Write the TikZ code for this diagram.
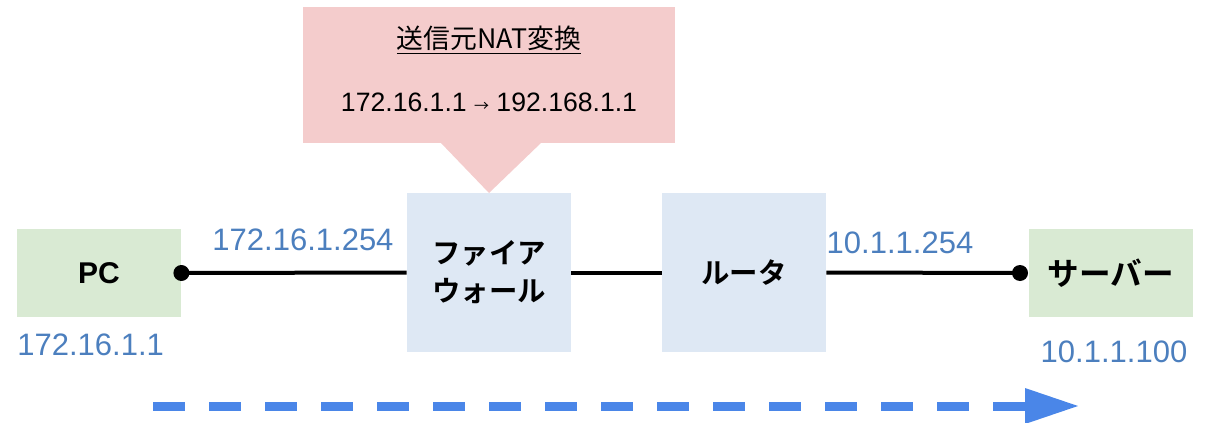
\documentclass[tikz,border=0pt]{standalone}
\usepackage{fontspec}
\setmainfont{Liberation Sans}
\newfontfamily\jp{Noto Sans CJK JP}[BoldFont=* Bold]
\usetikzlibrary{arrows.meta}
\definecolor{boxgreen}{RGB}{217,234,211}
\definecolor{boxblue}{RGB}{222,232,244}
\definecolor{boxpink}{RGB}{244,204,204}
\definecolor{lbl}{RGB}{76,127,190}
\definecolor{flow}{RGB}{74,134,232}
\tikzset{
  gbox/.style={fill=boxgreen, draw=none, minimum width=82pt, minimum height=44pt, inner sep=0pt, font=\jp\bfseries\fontsize{15.8}{17}\selectfont},
  bbox/.style={fill=boxblue, draw=none, minimum width=82pt, minimum height=79.5pt, inner sep=0pt, align=center, font=\jp\bfseries\fontsize{14.2}{19}\selectfont},
  addr/.style={text=lbl, inner sep=0pt, font=\fontsize{15.5}{18}\selectfont},
  link/.style={line width=2pt, black},
  dotc/.style={circle, fill=black, inner sep=0pt, minimum size=8pt}
}
\begin{document}
\begin{tikzpicture}[x=0.5pt,y=-0.5pt]
\useasboundingbox (0,0) rectangle (1207,423);
% callout
\node[fill=boxpink, minimum width=186pt, minimum height=68pt, inner sep=0pt] (call) at (489,75) {};
\fill[boxpink] (440,142) -- (542,142) -- (489,193) -- cycle;
\node[inner sep=0pt, font=\jp\fontsize{13.4}{16}\selectfont] (title) at (489,40) {\underline{送信元NAT変換}};
\node[inner sep=0pt, font=\fontsize{13.3}{16}\selectfont] (conv) at (489,102) {172.16.1.1 {\jp\fontsize{7.5}{8}\selectfont →} 192.168.1.1};
% boxes
\node[gbox, font=\bfseries\fontsize{15}{17}\selectfont] (pc) at (99,273) {PC};
\node[bbox] (fw) at (489,272.5) {ファイア\\ウォール};
\node[bbox] (rt) at (744,272.5) {ルータ};
\node[gbox] (sv) at (1111,273) {サーバー};
% links
\coordinate (svdot) at (1020,273);
\draw[link] (pc.east) -- (fw.west);
\draw[link] (fw.east) -- (rt.west);
\draw[link] (rt.east) -- (svdot);
\node[dotc] (d1) at (pc.east) {};
\node[dotc] (d2) at (svdot) {};
% address labels
\node[addr] (a1) at (303,240) {172.16.1.254};
\node[addr, anchor=west] (a2) at (17,345) {172.16.1.1};
\node[addr] (a3) at (900,243) {10.1.1.254};
\node[addr] (a4) at (1114,352) {10.1.1.100};
% flow arrow
\coordinate (fs) at (153,406);
\coordinate (fe) at (1026,406);
\draw[flow, line width=4.5pt, dash pattern=on 16pt off 12pt] (fs) -- (fe);
\fill[flow] (1025,388) -- (1078,406) -- (1025,424) -- cycle;
\end{tikzpicture}
\end{document}
